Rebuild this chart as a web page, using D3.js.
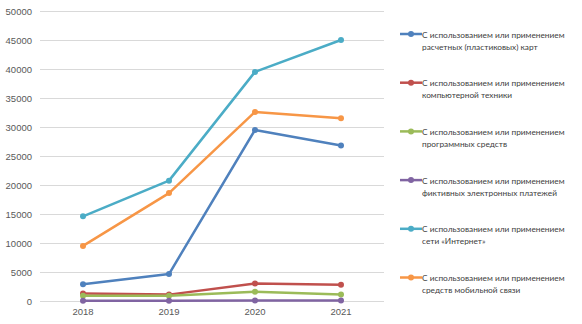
<!DOCTYPE html>
<html>
<head>
<meta charset="utf-8">
<script src="https://cdn.jsdelivr.net/npm/d3@7/dist/d3.min.js"></script>
<style>
  body { margin: 0; background: #fff; }
  svg { font-family: Lato, "Open Sans", sans-serif; }
</style>
</head>
<body>
<div id="chart"></div>
<script>
// data
const years = ["2018", "2019", "2020", "2021"];
const yTicks = [0, 5000, 10000, 15000, 20000, 25000, 30000, 35000, 40000, 45000, 50000];

const cards = [2900, 4650, 29500, 26800];
const computers = [1300, 1100, 3000, 2800];
const software = [900, 900, 1600, 1100];
const fakePayments = [30, 30, 80, 80];
const internet = [14600, 20750, 39500, 45000];
const mobile = [9500, 18600, 32600, 31500];

const seriesNames = [
  ["С использованием или применением", "расчетных (пластиковых) карт"],
  ["С использованием или применением", "компьютерной техники"],
  ["С использованием или применением", "программных средств"],
  ["С использованием или применением", "фиктивных электронных платежей"],
  ["С использованием или применением", "сети «Интернет»"],
  ["С использованием или применением", "средств мобильной связи"]
];
const colors = ["#4f81bd", "#c0504d", "#9bbb59", "#8064a2", "#4bacc6", "#f79646"];

const series = [cards, computers, software, fakePayments, internet, mobile].map((values, i) => ({
  name: seriesNames[i],
  color: colors[i],
  values: values
}));

const width = 582;
const height = 324;
const margin = { top: 11, right: 198, bottom: 23, left: 40 };

const svg = d3.select("#chart")
  .append("svg")
  .attr("width", width)
  .attr("height", height);

const x = d3.scaleBand()
  .domain(years)
  .range([margin.left, width - margin.right]);

const y = d3.scaleLinear()
  .domain([0, 50000])
  .range([height - margin.bottom, margin.top]);

// gridlines
svg.append("g")
  .selectAll("line")
  .data(yTicks)
  .join("line")
  .attr("x1", margin.left)
  .attr("x2", width - margin.right)
  .attr("y1", d => Math.round(y(d)) + 0.5)
  .attr("y2", d => Math.round(y(d)) + 0.5)
  .attr("stroke", "#d9d9d9")
  .attr("stroke-width", 1);

// y axis labels
const yAxis = svg.append("g")
  .attr("transform", `translate(${margin.left},0)`)
  .call(d3.axisLeft(y).tickValues(yTicks).tickSize(0).tickPadding(8).tickFormat(d3.format("d")));
yAxis.select(".domain").remove();
yAxis.selectAll("text")
  .attr("fill", "#595959")
  .style("font-size", "9.5px");

// x axis labels
const xAxis = svg.append("g")
  .attr("transform", `translate(0,${height - margin.bottom})`)
  .call(d3.axisBottom(x).tickSize(0).tickPadding(7));
xAxis.select(".domain").remove();
xAxis.selectAll("text")
  .attr("fill", "#595959")
  .style("font-size", "9.5px");

const line = d3.line()
  .x((d, i) => x(years[i]) + x.bandwidth() / 2)
  .y(d => y(d));

const g = svg.append("g");
series.forEach(s => {
  g.append("path")
    .datum(s.values)
    .attr("d", line)
    .attr("fill", "none")
    .attr("stroke", s.color)
    .attr("stroke-width", 2.5)
    .attr("stroke-linejoin", "round");
  g.selectAll(null)
    .data(s.values)
    .join("circle")
    .attr("cx", (d, i) => x(years[i]) + x.bandwidth() / 2)
    .attr("cy", d => y(d))
    .attr("r", 3)
    .attr("fill", s.color);
});

// legend
const legend = svg.append("g")
  .attr("transform", "translate(400,34)");
const item = legend.selectAll("g")
  .data(series)
  .join("g")
  .attr("transform", (d, i) => `translate(0,${i * 48.7})`);
item.append("line")
  .attr("x1", 0).attr("x2", 22)
  .attr("y1", 0).attr("y2", 0)
  .attr("stroke", d => d.color)
  .attr("stroke-width", 2.5);
item.append("circle")
  .attr("cx", 11).attr("cy", 0).attr("r", 3)
  .attr("fill", d => d.color);
item.append("text")
  .attr("x", 22)
  .attr("y", 3.5)
  .attr("fill", "#404040")
  .style("font-size", "8.3px")
  .selectAll("tspan")
  .data(d => d.name)
  .join("tspan")
  .attr("x", 22)
  .attr("dy", (d, i) => i === 0 ? 0 : 12)
  .text(d => d);
</script>
</body>
</html>
